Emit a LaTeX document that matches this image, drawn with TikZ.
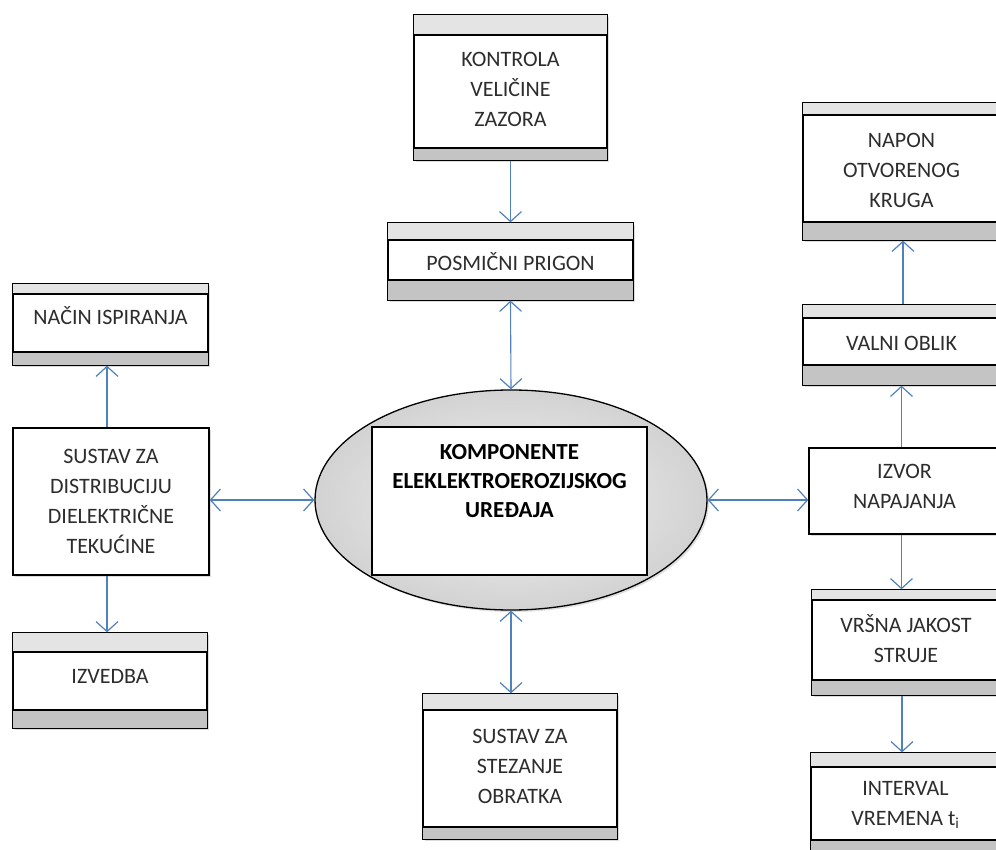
\documentclass[tikz,border=0pt]{standalone}
\usepackage{fontspec}
\setmainfont{Carlito}
\usetikzlibrary{arrows.meta,shapes.geometric,shadows}
\definecolor{arrowblue}{RGB}{79,129,189}
\definecolor{bandtop}{RGB}{228,228,228}
\definecolor{bandbot}{RGB}{196,196,196}
\definecolor{txtgray}{RGB}{45,45,45}
\tikzset{
  boxn/.style={draw=black, line width=1.3pt, fill=white, inner sep=0pt, rectangle,
    drop shadow={shadow xshift=2pt, shadow yshift=-2pt, fill=gray!60, opacity=0.45}},
  bandline/.style={draw=black, line width=1.3pt},
  txt/.style={align=center, text=txtgray, font=\fontsize{22}{30}\selectfont, inner sep=0pt},
  boldtxt/.style={align=center, text=black, font=\fontsize{23}{29}\selectfont\bfseries, inner sep=0pt},
  vtip/.tip={Straight Barb[length=10pt,width=22pt,line width=1.2pt]},
  arr/.style={draw=arrowblue, line width=1.1pt, -vtip},
  darr/.style={draw=arrowblue, line width=1.1pt, vtip-vtip},
}
\newcommand\mkbands[3]{%
  \draw[bandline, fill=bandtop] (#1.north west) rectangle (#1.east |- 0,#2);
  \draw[bandline, fill=bandbot] (#1.west |- 0,#3) rectangle (#1.south east);
}
\begin{document}
\begin{tikzpicture}[x=1pt,y=-1pt]
\useasboundingbox (0,0) rectangle (996,850);

% ---- top column ----
\node[boxn, minimum width=193pt, minimum height=145pt] (kontrola) at (510.5,87.5) {};
\mkbands{kontrola}{35}{148}
\node[txt] (kontrolat) at (510.5,89) {KONTROLA\\VELIČINE\\ZAZORA};

\node[boxn, minimum width=245pt, minimum height=77pt] (posmicni) at (510.5,261.5) {};
\mkbands{posmicni}{240}{280}
\node[txt] (posmicnit) at (510.5,262) {POSMIČNI PRIGON};

% ---- centre ----
\node[ellipse, draw=black, line width=1.3pt, minimum width=392pt, minimum height=220pt,
  inner color=gray!10, outer color=gray!35,
  drop shadow={shadow xshift=2pt, shadow yshift=-2pt, fill=gray!60, opacity=0.4}] (ell) at (511,500) {};
\node[draw=black, line width=1.3pt, fill=white, minimum width=275pt, minimum height=148pt, inner sep=0pt] (komp) at (509.5,501) {};
\node[boldtxt] (kompt) at (509.5,481) {KOMPONENTE\\ELEKLEKTROEROZIJSKOG\\UREĐAJA};

\node[boxn, minimum width=194pt, minimum height=145pt] (stez) at (520,766.5) {};
\mkbands{stez}{710}{827}
\node[txt] (stezt) at (520,766) {SUSTAV ZA\\STEZANJE\\OBRATKA};

% ---- left column ----
\node[boxn, minimum width=195pt, minimum height=81pt] (nacin) at (110.5,324.5) {};
\mkbands{nacin}{294}{352}
\node[txt] (nacint) at (110.5,316) {NAČIN ISPIRANJA};

\node[boxn, minimum width=196pt, minimum height=147pt] (sustav) at (111,501.5) {};
\node[txt] (sustavt) at (111,501) {SUSTAV ZA\\DISTRIBUCIJU\\DIELEKTRIČNE\\TEKUĆINE};

\node[boxn, minimum width=194pt, minimum height=95pt] (izvedba) at (110,680.5) {};
\mkbands{izvedba}{652}{710}
\node[txt] (izvedbat) at (110,676) {IZVEDBA};

% ---- right column ----
\node[boxn, minimum width=197pt, minimum height=137pt] (napon) at (901.5,171.5) {};
\mkbands{napon}{115}{222}
\node[txt] (napont) at (901.5,170) {NAPON\\OTVORENOG\\KRUGA};

\node[boxn, minimum width=197pt, minimum height=80pt] (valni) at (901.5,345) {};
\mkbands{valni}{318}{365}
\node[txt] (valnit) at (901.5,343) {VALNI OBLIK};

\node[boxn, minimum width=191pt, minimum height=86pt] (izvor) at (904.5,491) {};
\node[txt] (izvort) at (904.5,486) {IZVOR\\NAPAJANJA};

\node[boxn, minimum width=188pt, minimum height=105pt] (vrsna) at (906,642.5) {};
\mkbands{vrsna}{600}{680}
\node[txt] (vrsnat) at (906,639) {VRŠNA JAKOST\\STRUJE};

\node[boxn, minimum width=189pt, minimum height=117pt] (interval) at (905.5,811.5) {};
\mkbands{interval}{767}{840}
\node[txt] (intervalt) at (905.5,805) {INTERVAL\\VREMENA t\textsubscript{i}};

% ---- connectors ----
\draw[arr] (kontrola.south) -- (posmicni.north);
\draw[darr] (posmicni.south) -- (ell.north);
\draw[darr] (ell.south) -- (ell.south |- stez.north);
\draw[darr] (sustav.east |- ell.west) -- (ell.west);
\draw[darr] (ell.east) -- (izvor.west |- ell.east);
\draw[arr] ([xshift=-4pt]sustav.north) -- ([xshift=-4pt]sustav.north |- nacin.south);
\draw[arr] ([xshift=-4pt]sustav.south) -- ([xshift=-4pt]sustav.south |- izvedba.north);
\draw[arr] ([xshift=-3pt]izvor.north) -- ([xshift=-3pt]izvor.north |- valni.south);
\draw[arr] (valni.north -| 903,0) -- (napon.south -| 903,0);
\draw[arr] ([xshift=-3pt]izvor.south) -- ([xshift=-3pt]izvor.south |- vrsna.north);
\draw[arr] (vrsna.south -| 902,0) -- (interval.north -| 902,0);
\end{tikzpicture}
\end{document}
